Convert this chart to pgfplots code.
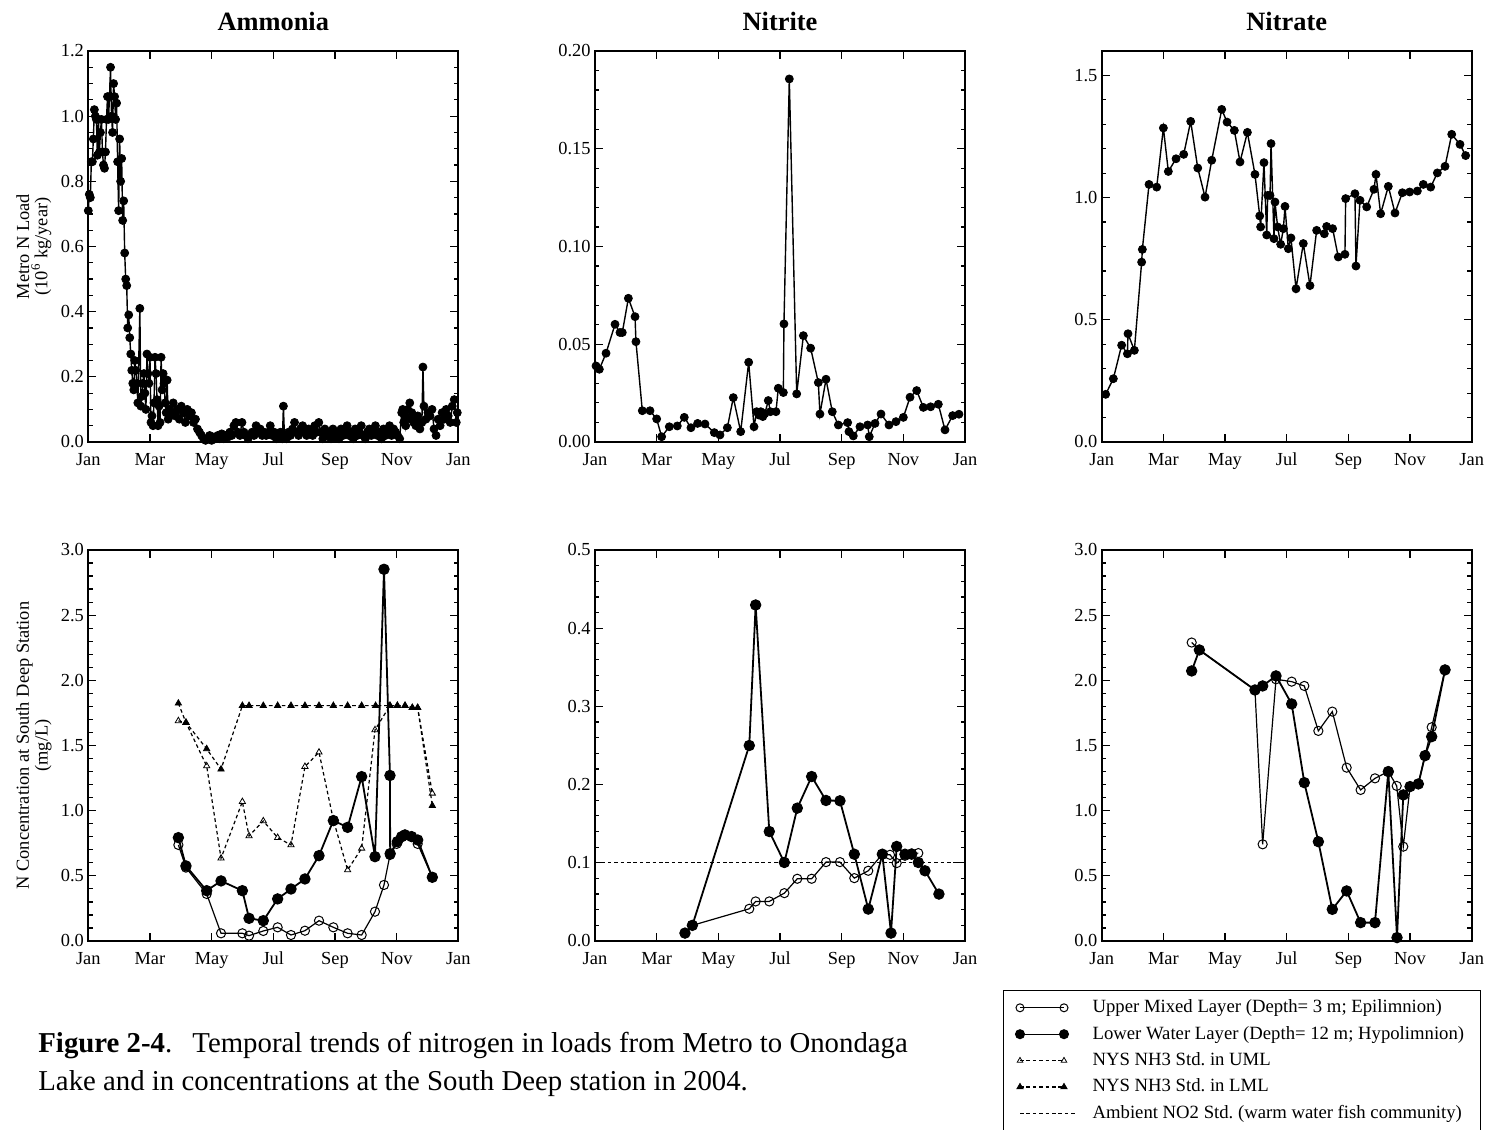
\documentclass[border=0pt]{standalone}
\usepackage{fontspec}
\setmainfont{Liberation Serif}
\usepackage{pgfplots}
\pgfplotsset{compat=1.18}
\frenchspacing
\pgfplotsset{
  panel/.style={
    scale only axis, width=185pt, height=195.5pt,
    xmin=0, xmax=366,
    xtick={0,61,122,183,244,305,366},
    xticklabels={Jan,Mar,May,Jul,Sep,Nov,Jan},
    xtick pos=both, ytick pos=both,
    xticklabel pos=lower, yticklabel pos=left,
    tick align=inside,
    major tick length=4pt, minor tick length=2.2pt,
    axis line style={line width=0.9pt},
    every tick/.style={black, line width=0.6pt},
    tick label style={font=\fontsize{9.2}{11}\selectfont},
    yticklabel style={inner xsep=2pt},
    xticklabel style={yshift=-2pt},
    /pgf/number format/assume math mode=true,
    clip=false,
    every axis title/.style={at={(axis description cs:0.5,1)}, anchor=base, yshift=10pt, font=\bfseries\fontsize{13.2}{15}\selectfont},
    every axis y label/.style={at={(axis description cs:-0.147,0.5)}, rotate=90, anchor=center},
    ylabel style={align=center, font=\fontsize{9.2}{7.4}\selectfont},
  },
  dec1/.style={yticklabel style={/pgf/number format/.cd, fixed, fixed zerofill, precision=1, /tikz/.cd}},
  dec2/.style={yticklabel style={/pgf/number format/.cd, fixed, fixed zerofill, precision=2, /tikz/.cd}},
  topser/.style={black, line width=0.7pt, mark=*, mark size=2pt, mark options={solid, line width=0.4pt}},
  lml/.style={black, line width=0.9pt, mark=*, mark size=2.6pt, mark options={solid, line width=0.5pt}},
  uml/.style={black, line width=0.6pt, mark=o, mark size=2.3pt, mark options={solid, line width=0.5pt}},
  umlstd/.style={black, line width=0.6pt, dash pattern=on 1.8pt off 1.4pt, mark=triangle, mark size=1.8pt, mark options={solid, line width=0.4pt}},
  lmlstd/.style={black, line width=0.6pt, dash pattern=on 1.8pt off 1.4pt, mark=triangle*, mark size=1.8pt, mark options={solid, line width=0.4pt}},
  legimg/.style={legend image code/.code={\draw[##1, mark repeat=1] plot coordinates {(0pt,0pt) (22pt,0pt)}; \path (34pt,0pt);}},
  legline/.style={legend image code/.code={\draw[##1] (0pt,0pt) -- (28pt,0pt); \path (34pt,0pt);}},
}
\begin{document}
\begin{tikzpicture}
\useasboundingbox (0,0) rectangle (743pt,564.5pt);

% ---------------- Top left: Ammonia load
\begin{axis}[panel, dec1, at={(44.15pt,343.5pt)}, anchor=south west,
  ymin=0, ymax=1.2, ytick={0,0.2,0.4,0.6,0.8,1.0,1.2}, minor y tick num=3,
  title={Ammonia}, ylabel={Metro N Load\\(10\textsuperscript{6} kg/year)}]
\addplot[topser] coordinates {
(0,0.71) (1,0.76) (2,0.75) (3,0.86) (4,0.86) (5,0.93) (6,1.02) (7,1.00) (8,0.99) (9,0.88)
(10,0.99) (11,0.89) (12,0.95) (13,0.99) (14,0.89) (15,0.85) (16,0.84) (17,0.89) (18,0.99) (19,1.06)
(20,0.99) (21,1.06) (22,1.15) (23,1.00) (24,0.95) (25,1.10) (26,1.06) (27,0.99) (28,1.04) (29,0.86)
(30,0.71) (31,0.93) (32,0.80) (33,0.87) (34,0.68) (35,0.74) (36,0.58) (37,0.50) (38,0.48) (39,0.35)
(40,0.39) (41,0.32) (42,0.27) (43,0.22) (44,0.18) (45,0.16) (46,0.25) (47,0.22) (48,0.18) (49,0.12)
(51,0.41) (52,0.11) (53,0.14) (54,0.18) (55,0.21) (56,0.15) (57,0.10) (58,0.27) (59,0.21) (60,0.18)
(61,0.26) (62,0.06) (63,0.08) (64,0.05) (65,0.12) (66,0.26) (67,0.21) (68,0.13) (69,0.05) (70,0.11)
(71,0.06) (72,0.26) (73,0.16) (74,0.21) (75,0.18) (76,0.12) (77,0.09) (78,0.19) (79,0.07) (80,0.10)
(82,0.09) (84,0.12) (86,0.08) (88,0.10) (90,0.07) (92,0.11) (94,0.09) (96,0.06) (98,0.10) (100,0.08)
(102,0.09) (104,0.06) (106,0.07) (108,0.04) (110,0.03) (112,0.02) (114,0.01) (116,0.005) (118,0.01) (120,0.02)
(122,0.005) (124,0.015) (126,0.01) (128,0.02) (130,0.01) (132,0.025) (134,0.01) (136,0.02) (138,0.015) (140,0.03)
(142,0.02) (144,0.05) (146,0.06) (148,0.03) (150,0.02) (152,0.06) (154,0.03) (156,0.02) (158,0.01) (160,0.02)
(162,0.03) (164,0.02) (166,0.05) (168,0.03) (170,0.04) (172,0.02) (174,0.03) (176,0.02) (178,0.03) (180,0.05)
(182,0.02) (184,0.03) (186,0.01) (188,0.02) (190,0.03) (192,0.01) (193,0.11) (194,0.02) (196,0.01) (198,0.03)
(200,0.02) (202,0.04) (204,0.06) (206,0.03) (208,0.02) (210,0.04) (212,0.05) (214,0.03) (216,0.02) (218,0.04)
(220,0.03) (222,0.02) (224,0.05) (226,0.03) (228,0.06) (230,0.03) (232,0.01) (234,0.04) (236,0.02) (238,0.03)
(240,0.01) (242,0.04) (244,0.02) (246,0.03) (248,0.01) (250,0.04) (252,0.02) (254,0.03) (256,0.05) (258,0.02)
(260,0.03) (262,0.01) (264,0.04) (266,0.02) (268,0.03) (270,0.05) (272,0.02) (274,0.01) (276,0.03) (278,0.04)
(280,0.02) (282,0.03) (284,0.05) (286,0.02) (288,0.03) (290,0.01) (292,0.04) (294,0.02) (296,0.03) (298,0.05)
(300,0.02) (302,0.04) (304,0.03) (306,0.02) (308,0.01) (310,0.09) (311,0.10) (312,0.06) (313,0.08) (314,0.05)
(316,0.10) (318,0.12) (319,0.07) (320,0.09) (322,0.06) (324,0.05) (326,0.08) (328,0.04) (330,0.06) (331,0.23)
(332,0.11) (334,0.07) (336,0.09) (338,0.08) (340,0.10) (342,0.04) (344,0.02) (346,0.07) (348,0.05) (350,0.09)
(352,0.07) (354,0.10) (356,0.08) (358,0.06) (360,0.11) (362,0.13) (364,0.06) (365,0.09)
};
\end{axis}

% ---------------- Top middle: Nitrite load
\begin{axis}[panel, dec2, at={(297.5pt,343.5pt)}, anchor=south west,
  ymin=0, ymax=0.2, ytick={0,0.05,0.1,0.15,0.2}, minor y tick num=4,
  title={Nitrite}]
\addplot[topser] coordinates {
(1,0.0389) (4.3,0.0372) (10.9,0.0454) (19.8,0.0602) (24.7,0.056) (27,0.056) (33,0.0735) (39.6,0.0641)
(40.5,0.0513) (46.8,0.016) (54.4,0.016) (61,0.0118) (65.9,0.0027) (73.5,0.0078) (81.4,0.0082) (88.3,0.0126)
(94.9,0.0073) (101.5,0.0095) (108.8,0.0092) (118,0.0048) (123.6,0.0036) (130.9,0.0073) (136.8,0.0227)
(144.1,0.0053) (152,0.0408) (157.3,0.0078) (159.9,0.0155) (162,0.0138) (164,0.0155) (166,0.0130)
(168,0.0145) (171.4,0.0212) (173.5,0.0155) (179,0.0155) (181.3,0.0275) (186.3,0.0253) (186.9,0.0604)
(192.2,0.1857) (199.5,0.0246) (206.1,0.0544) (213.3,0.048) (220.9,0.0304) (222.5,0.0143) (228.5,0.0321)
(234.7,0.0155) (240.7,0.0087) (249.9,0.0099) (251.2,0.0053) (255.5,0.0031) (262.1,0.0078) (269.7,0.0087)
(271.3,0.0027) (277,0.0095) (282.9,0.0143) (290.8,0.0087) (297.7,0.0104) (305,0.0126) (311.6,0.0229)
(318.2,0.0263) (324.8,0.0177) (332,0.018) (339.6,0.0193) (346.2,0.0062) (353.8,0.0135) (360,0.0142)
};
\end{axis}

% ---------------- Top right: Nitrate load
\begin{axis}[panel, dec1, at={(550.85pt,343.5pt)}, anchor=south west,
  ymin=0, ymax=1.6, ytick={0,0.5,1.0,1.5}, minor y tick num=4,
  title={Nitrate}]
\addplot[topser] coordinates {
(3.9,0.195) (11.5,0.259) (19.7,0.396) (25.4,0.361) (26,0.443) (32.3,0.375) (39.5,0.736) (40.2,0.788)
(46.8,1.054) (54.4,1.043) (61,1.285) (65.9,1.107) (73.5,1.159) (81.1,1.177) (88,1.312) (95,1.121)
(102.2,1.002) (108.8,1.153) (118.7,1.361) (124,1.309) (131.2,1.275) (136.8,1.146) (144.1,1.267)
(151.6,1.095) (156.3,0.925) (157.2,0.88) (160.5,1.143) (163.2,0.847) (164.2,1.009) (166.5,1.009)
(167.5,1.221) (170.4,0.832) (171.4,0.982) (174,0.88) (177,0.809) (179.7,0.873) (181.3,0.964)
(184.6,0.791) (187.2,0.835) (192.2,0.627) (199.4,0.812) (206,0.64) (212.6,0.866) (220.2,0.852)
(222.5,0.882) (228.4,0.873) (234,0.757) (240.6,0.768) (241.3,0.996) (250.5,1.016) (251.5,0.72)
(255.5,0.989) (262.1,0.962) (269.3,1.034) (271.3,1.095) (275.9,0.934) (283.5,1.046) (290.1,0.937)
(297.4,1.02) (304.6,1.023) (312.2,1.027) (318.1,1.054) (325.4,1.043) (332,1.101) (339.6,1.128)
(346.2,1.259) (354.4,1.218) (360,1.172)
};
\end{axis}

% ---------------- Bottom left: Ammonia concentration
\begin{axis}[panel, dec1, at={(44.15pt,94pt)}, anchor=south west,
  ymin=0, ymax=3, ytick={0,0.5,1.0,1.5,2.0,2.5,3.0}, minor y tick num=4,
  ylabel={N Concentration at South Deep Station\\(mg/L)}]
\addplot[umlstd] coordinates {
(89.1,1.689) (96.6,1.676) (117.1,1.343) (131.3,0.635) (152.4,1.069) (159,0.806) (173.1,0.921)
(187.3,0.793) (200.5,0.737) (214.3,1.338) (228.2,1.448) (242.4,0.93) (256.5,0.545) (270.4,0.711)
(283.6,1.62) (298.4,1.806) (305.7,1.806) (313.3,1.806) (320.5,1.79) (325.8,1.79) (340.3,1.133)
};
\addplot[lmlstd] coordinates {
(89.1,1.824) (96.6,1.676) (117.1,1.474) (131.3,1.318) (152.4,1.806) (159,1.806) (173.1,1.806)
(187.3,1.806) (200.5,1.806) (214.3,1.806) (228.2,1.806) (242.4,1.806) (256.5,1.806) (270.4,1.806)
(284.2,1.806) (298.4,1.806) (305.7,1.806) (313.3,1.806) (320.5,1.79) (325.8,1.79) (340.3,1.039)
};
\addplot[uml] coordinates {
(89.1,0.737) (96.6,0.563) (117.1,0.361) (131.3,0.059) (152.4,0.059) (159,0.041) (173.1,0.077)
(187.3,0.105) (200.5,0.046) (214.3,0.079) (228.2,0.156) (242.4,0.105) (256.5,0.059) (270.4,0.046)
(283.6,0.225) (292.5,0.43) (298.4,0.66) (305,0.745) (312.6,0.814) (319.8,0.801) (325.8,0.745) (340.3,0.489)
};
\addplot[lml] coordinates {
(89.1,0.793) (96.6,0.576) (117.1,0.386) (131.3,0.461) (152.4,0.386) (159,0.174) (173.1,0.156)
(187.3,0.323) (200.5,0.399) (214.3,0.476) (228.2,0.655) (242.4,0.924) (256.5,0.872) (270.4,1.261)
(283.6,0.647) (292.5,2.852) (298.4,1.27) (298.6,0.67) (305.7,0.762) (309.9,0.8) (313.3,0.814)
(319.8,0.801) (325.8,0.775) (340.3,0.489)
};
\end{axis}

% ---------------- Bottom middle: Nitrite concentration
\begin{axis}[panel, dec1, at={(297.5pt,94pt)}, anchor=south west,
  ymin=0, ymax=0.5, ytick={0,0.1,0.2,0.3,0.4,0.5}, minor y tick num=4]
\addplot[black, line width=0.6pt, dash pattern=on 1.8pt off 1.4pt] coordinates {(0,0.1) (366,0.1)};
\addplot[uml] coordinates {
(89,0.0101) (96.3,0.02) (152.6,0.0412) (158.9,0.0506) (172.4,0.0506) (187.3,0.0612) (200.1,0.0796)
(214.3,0.0796) (228.5,0.1009) (242.3,0.1009) (256.5,0.0804) (270.3,0.0898) (284.2,0.111) (291.8,0.1102)
(298.4,0.0996) (306.6,0.109) (313.2,0.112) (319.8,0.1124)
};
\addplot[lml] coordinates {
(89,0.0101) (96.3,0.02) (152.6,0.25) (158.9,0.4297) (172.4,0.14) (187.3,0.1004) (200.1,0.1699)
(214.3,0.2103) (228.5,0.1797) (242.3,0.1793) (256.5,0.111) (270.3,0.0408) (284.2,0.111) (292.8,0.0101)
(298.4,0.1209) (306.6,0.111) (313.2,0.111) (319.8,0.1004) (326.4,0.0898) (340.2,0.06)
};
\end{axis}

% ---------------- Bottom right: Nitrate concentration + legend
\begin{axis}[panel, dec1, at={(550.85pt,94pt)}, anchor=south west,
  ymin=0, ymax=3, ytick={0,0.5,1.0,1.5,2.0,2.5,3.0}, minor y tick num=4,
  legend cell align=left,
  legend style={at={(axis description cs:-0.2668,-0.1253)}, anchor=north west,
    draw=black, line width=0.6pt, font=\fontsize{9.35}{11}\selectfont,
    inner xsep=6pt, inner ysep=2pt, row sep=0pt,
    nodes={inner sep=2pt, text height=7pt, text depth=2.2pt},
    cells={anchor=west}}]
\addlegendimage{legimg, black, line width=0.6pt, mark=o, mark size=2pt, mark options={solid, line width=0.5pt}}
\addlegendimage{legimg, black, line width=0.6pt, mark=*, mark size=2.2pt, mark options={solid}}
\addlegendimage{legimg, black, line width=0.6pt, dash pattern=on 1.8pt off 1.4pt, mark=triangle, mark size=1.6pt, mark options={solid, line width=0.4pt}}
\addlegendimage{legimg, black, line width=0.6pt, dash pattern=on 1.8pt off 1.4pt, mark=triangle*, mark size=1.6pt, mark options={solid}}
\addlegendimage{legline, black, line width=0.6pt, dash pattern=on 1.8pt off 1.4pt}
\legend{Upper Mixed Layer (Depth= 3 m; Epilimnion), Lower Water Layer (Depth= 12 m; Hypolimnion), NYS NH3 Std. in UML, NYS NH3 Std. in LML, Ambient NO2 Std. (warm water fish community)}
\addplot[uml, forget plot] coordinates {
(89,2.29) (96.6,2.233) (151.6,1.926) (159.2,0.742) (172.4,2.008) (187.9,1.99) (200.4,1.957) (214.3,1.612)
(228.1,1.76) (242.3,1.33) (256.1,1.159) (270.3,1.248) (283.5,1.3) (291.8,1.19) (298.3,0.724) (305,1.185)
(313.2,1.205) (319.8,1.422) (326.4,1.64) (339.6,2.08)
};
\addplot[lml, forget plot] coordinates {
(89,2.072) (96.6,2.233) (151.6,1.926) (159.2,1.957) (172.4,2.034) (187.9,1.819) (200.4,1.215) (214.3,0.762)
(228.1,0.243) (242.3,0.384) (256.1,0.141) (270.3,0.141) (283.5,1.3) (292.1,0.026) (298.3,1.121) (305,1.185)
(313.2,1.205) (319.8,1.422) (326.4,1.568) (339.6,2.08)
};
\end{axis}

% ---------------- Caption
\node[anchor=base west, inner sep=0pt, font=\fontsize{14.4}{17}\selectfont] at (19pt,38.3pt)
  {\textbf{Figure 2-4}.\hspace{0.7em}Temporal trends of nitrogen in loads from Metro to Onondaga};
\node[anchor=base west, inner sep=0pt, font=\fontsize{14.4}{17}\selectfont] at (19pt,19.3pt)
  {Lake and in concentrations at the South Deep station in 2004.};
\end{tikzpicture}
\end{document}
